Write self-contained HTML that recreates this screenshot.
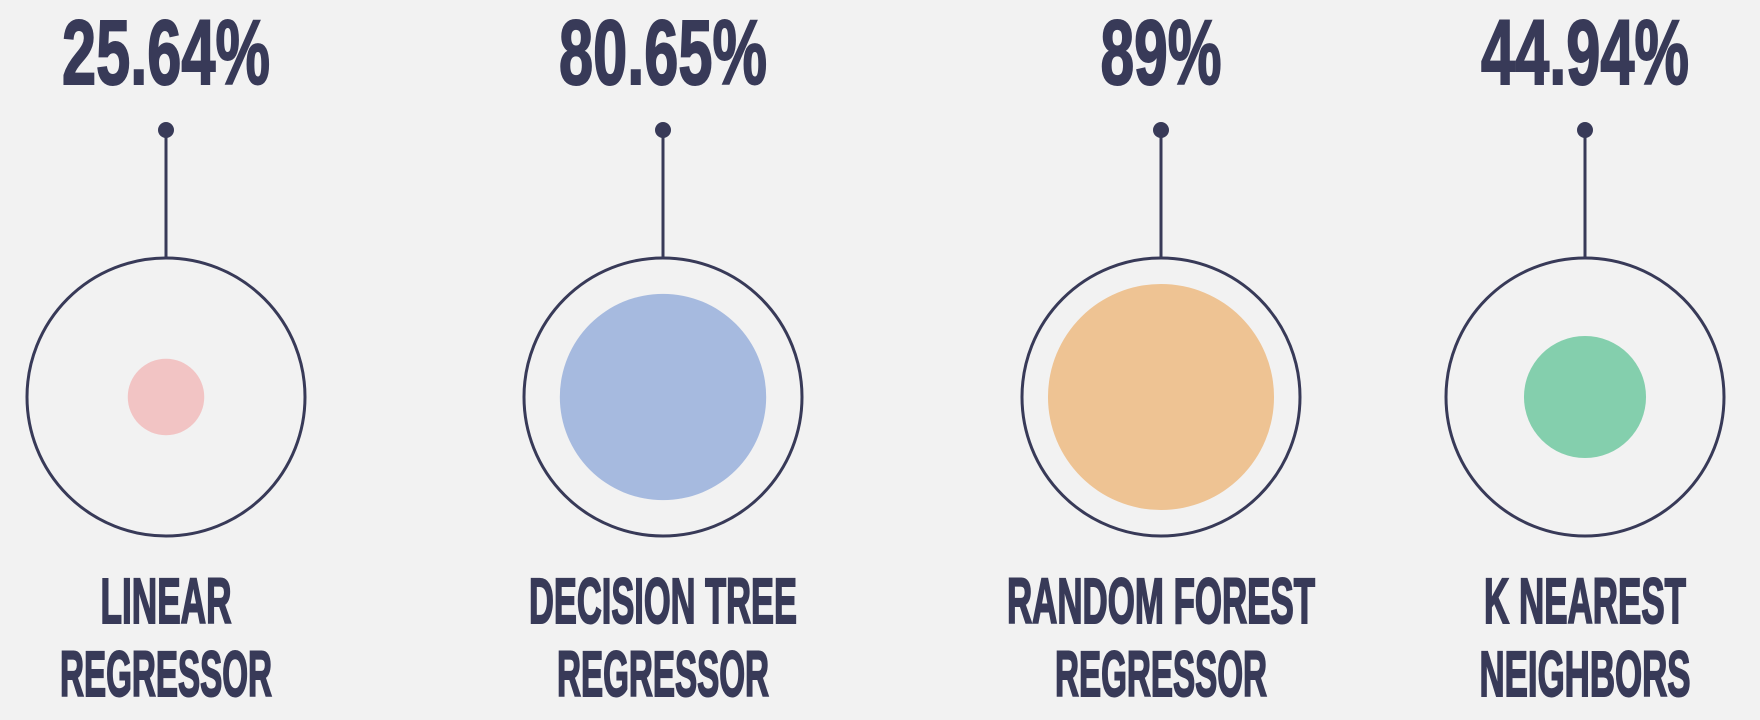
<!DOCTYPE html>
<html><head><meta charset="utf-8"><style>
html,body{margin:0;padding:0;background:#f2f2f2;}
svg{display:block;}
text{font-family:"Liberation Sans Narrow","Liberation Sans",sans-serif;font-weight:bold;fill:#383a58;text-anchor:middle;stroke:#383a58;}
</style></head><body>
<svg id="chart" width="1760" height="720" viewBox="0 0 1760 720">
<rect width="1760" height="720" fill="#f2f2f2"/>
</svg>
<script>
const models = ["LINEAR|REGRESSOR","DECISION TREE|REGRESSOR","RANDOM FOREST|REGRESSOR","K NEAREST|NEIGHBORS"];
const accuracy = [25.64, 80.65, 89, 44.94];
const valueLabels = ["25.64%","80.65%","89%","44.94%"];
const colors = ["#f2c4c4","#a6badf","#eec393","#84cfad"];
const centersX = [166, 663, 1161, 1585];
const NS = "http://www.w3.org/2000/svg";
const svg = document.getElementById("chart");
const cy = 397, outerR = 139;
function rScale(v){ return 8 + v * 1.18; }
function charW(s, per){ return s.length * per; }
function mk(tag, attrs){ const e=document.createElementNS(NS,tag); for(const k in attrs) e.setAttribute(k,attrs[k]); svg.appendChild(e); return e; }
const labelWidths = {"LINEAR":131,"REGRESSOR":212,"DECISION TREE":268,"RANDOM FOREST":308,"K NEAREST":202,"NEIGHBORS":211};
models.forEach((m,i)=>{
  const cx = centersX[i];
  const pct = mk("text",{x:cx,y:84,"font-size":92,"stroke-width":2,textLength:valueLabels[i].length>3?208:121,lengthAdjust:"spacingAndGlyphs"});
  pct.textContent = valueLabels[i];
  
  
  const ln = mk("line",{x1:cx,y1:130,x2:cx,y2:cy-outerR,stroke:"#383a58","stroke-width":3});
  
  
  const dot = mk("circle",{cx:cx,cy:130,r:8,fill:"#383a58"});
  
  
  const oc = mk("circle",{cx:cx,cy:cy,r:outerR,fill:"none",stroke:"#383a58","stroke-width":3});
  
  
  const ic = mk("circle",{cx:cx,cy:cy,r:rScale(accuracy[i]),fill:colors[i],stroke:"none"});
  
  
  m.split("|").forEach((line,j)=>{
    const t = mk("text",{x:cx,y:623+j*73,"font-size":64,"stroke-width":2,textLength:labelWidths[line]||charW(line,24),lengthAdjust:"spacingAndGlyphs"});
    t.textContent = line;
    
    
  });
});
</script>
</body></html>
